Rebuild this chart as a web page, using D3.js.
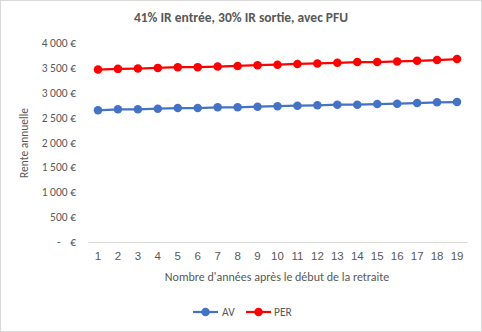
<!DOCTYPE html>
<html><head><meta charset="utf-8">
<script src="https://cdn.jsdelivr.net/npm/d3@7"></script>
<style>
html,body{margin:0;padding:0;background:#fff;}
svg{display:block;font-family:Carlito,Calibri,Lato,"Open Sans",sans-serif;}
</style></head>
<body>
<script>
const title = "41% IR entrée, 30% IR sortie, avec PFU";
const years = [1,2,3,4,5,6,7,8,9,10,11,12,13,14,15,16,17,18,19];
const av  = [2647,2667,2667,2680,2693,2693,2707,2707,2720,2730,2740,2747,2760,2760,2773,2780,2793,2807,2813];
const per = [3467,3480,3487,3500,3513,3515,3527,3540,3553,3565,3578,3590,3603,3617,3617,3630,3643,3657,3677];
const yTicks = [0,500,1000,1500,2000,2500,3000,3500,4000];
const seriesNames = ["AV","PER"];
const seriesColors = ["#4472C4","#FF0000"];
const yLabel = "Rente annuelle";
const xLabel = "Nombre d'années après le début de la retraite";

const W = 482, H = 332;
const svg = d3.select("body").append("svg").attr("width", W).attr("height", H);
svg.append("rect").attr("x",0.5).attr("y",0.5).attr("width",W-1).attr("height",H-1)
  .attr("fill","#fff").attr("stroke","#d9d9d9");

const x = d3.scaleBand().domain(years).range([88, 467]);
const y = d3.scaleLinear().domain([0, 4000]).range([242, 43]);

svg.append("text").attr("x", 241).attr("y", 22).attr("text-anchor","middle")
  .attr("font-size", 13.5).attr("font-weight","bold").attr("fill","#595959").text(title);

// x axis
const xAxis = svg.append("g").attr("transform","translate(0,242)")
  .call(d3.axisBottom(x).tickSize(0).tickPadding(10));
xAxis.select(".domain").attr("stroke","#d9d9d9");
xAxis.selectAll("text").attr("font-size",11.5).attr("fill","#595959").attr("font-family",null);

// y axis labels (accounting format)
const fmt = v => d3.format(",")(v).replace(/,/g, " ");
const yg = svg.append("g");
yTicks.forEach(v => {
  if (v === 0) {
    yg.append("text").attr("x", 57).attr("y", y(v)).attr("dy","0.35em")
      .attr("text-anchor","start").attr("font-size",11.5).attr("fill","#595959").text("-");
    yg.append("text").attr("x", 76).attr("y", y(v)).attr("dy","0.35em")
      .attr("text-anchor","end").attr("font-size",11.5).attr("fill","#595959").text("€");
  } else {
    yg.append("text").attr("x", 76).attr("y", y(v)).attr("dy","0.35em")
      .attr("text-anchor","end").attr("font-size",11.5).attr("fill","#595959")
      .text(fmt(v) + " €");
  }
});

svg.append("text").attr("transform","translate(28,143) rotate(-90)")
  .attr("text-anchor","middle").attr("font-size",11.5).attr("fill","#595959").text(yLabel);
svg.append("text").attr("x", 277).attr("y", 281).attr("text-anchor","middle")
  .attr("font-size",12).attr("fill","#595959").text(xLabel);

const cx = d => x(d) + x.bandwidth()/2;
const line = d3.line().x((d,i) => cx(years[i])).y(d => y(d));
[av, per].forEach((s, k) => {
  svg.append("path").datum(s).attr("d", line).attr("fill","none")
    .attr("stroke", seriesColors[k]).attr("stroke-width", 2.25);
  svg.append("g").selectAll("circle").data(s).join("circle")
    .attr("cx", (d,i) => cx(years[i])).attr("cy", d => y(d)).attr("r", 4.25)
    .attr("fill", seriesColors[k]);
});

// legend
const leg = [{x0:193, tx:222}, {x0:246, tx:274}];
seriesNames.forEach((n, k) => {
  const g = svg.append("g");
  g.append("line").attr("x1", leg[k].x0).attr("x2", leg[k].x0 + 25).attr("y1", 312).attr("y2", 312)
    .attr("stroke", seriesColors[k]).attr("stroke-width", 2.25);
  g.append("circle").attr("cx", leg[k].x0 + 12.5).attr("cy", 312).attr("r", 4.25).attr("fill", seriesColors[k]);
  g.append("text").attr("x", leg[k].tx).attr("y", 312).attr("dy","0.35em")
    .attr("font-size",11.5).attr("fill","#595959").text(n);
});
</script>
</body></html>
